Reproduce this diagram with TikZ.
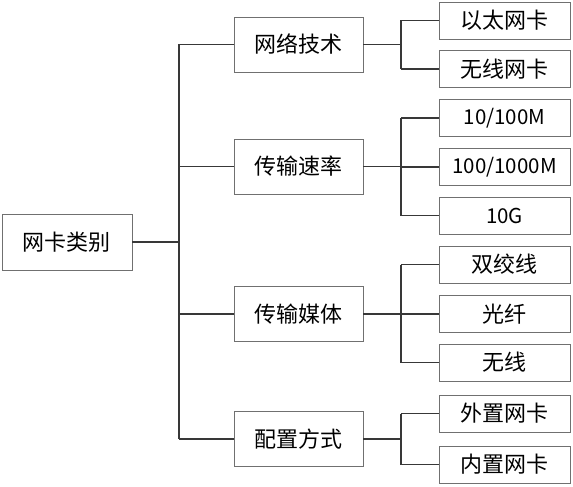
\documentclass[tikz,border=0pt]{standalone}
\usepackage{fontspec}
\setmainfont{Noto Sans CJK SC}
\begin{document}
\begin{tikzpicture}[x=1pt,y=-1pt,
  box/.style={draw=boxgray,line width=0.9pt,rectangle,inner sep=0pt,font=\fontsize{22}{26}\selectfont,text=black},
  rootbox/.style={box,minimum width=130pt,minimum height=56pt},
  midbox/.style={box,minimum width=129pt,minimum height=55pt},
  leafbox/.style={box,minimum width=131pt,minimum height=37pt},
  numbox/.style={leafbox,font=\fontsize{20.5}{24}\selectfont},
  link/.style={draw=linegray,line width=1.5pt}]
\definecolor{boxgray}{HTML}{707070}
\definecolor{linegray}{HTML}{383838}
\useasboundingbox (0,0) rectangle (573,487);
\node[rootbox] (root) at (67,242) {网卡类别};
\node[midbox] (m1) at (298.5,44.5) {网络技术};
\node[midbox] (m2) at (298.5,166.5) {传输速率};
\node[midbox] (m3) at (298.5,314) {传输媒体};
\node[midbox] (m4) at (298.5,439) {配置方式};
\node[leafbox] (a1) at (504.5,20.5) {以太网卡};
\node[leafbox] (a2) at (504.5,69) {无线网卡};
\node[numbox] (b1) at (504.5,118) {10/100M};
\node[numbox] (b2) at (504.5,167) {100/1000M};
\node[numbox] (b3) at (504.5,215.5) {10G};
\node[leafbox] (c1) at (504.5,264.5) {双绞线};
\node[leafbox] (c2) at (504.5,314) {光纤};
\node[leafbox] (c3) at (504.5,362.5) {无线};
\node[leafbox] (d1) at (504.5,413.5) {外置网卡};
\node[leafbox] (d2) at (504.5,464.5) {内置网卡};
\coordinate (t) at (179,0);
\coordinate (b) at (401,0);
% trunk
\draw[link] (root.east) -- (root.east -| t);
\draw[link] (m1.west -| t) -- (m4.west -| t);
\foreach \m in {m1,m2,m3,m4} \draw[link] (\m.west -| t) -- (\m.west);
% branches
\draw[link] (m1.east) -- (m1.east -| b);
\draw[link] (a1.west -| b) -- (a2.west -| b);
\foreach \l in {a1,a2} \draw[link] (\l.west -| b) -- (\l.west);
\draw[link] (m2.east) -- (m2.east -| b);
\draw[link] (b1.west -| b) -- (b3.west -| b);
\foreach \l in {b1,b2,b3} \draw[link] (\l.west -| b) -- (\l.west);
\draw[link] (m3.east) -- (m3.east -| b);
\draw[link] (c1.west -| b) -- (c3.west -| b);
\foreach \l in {c1,c2,c3} \draw[link] (\l.west -| b) -- (\l.west);
\draw[link] (m4.east) -- (m4.east -| b);
\draw[link] (d1.west -| b) -- (d2.west -| b);
\foreach \l in {d1,d2} \draw[link] (\l.west -| b) -- (\l.west);
\end{tikzpicture}
\end{document}
